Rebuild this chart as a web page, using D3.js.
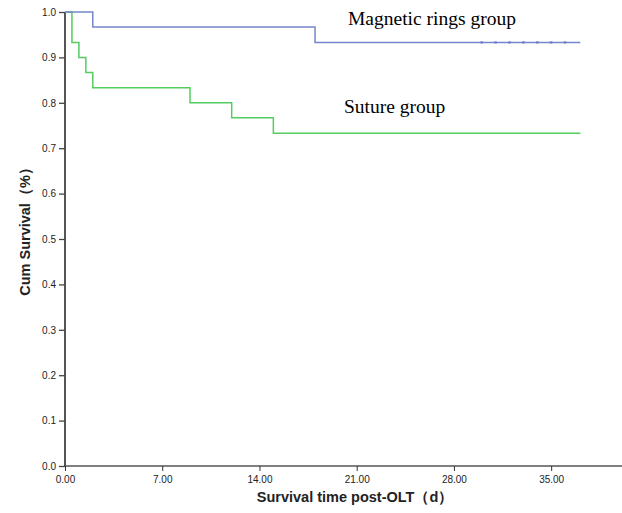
<!DOCTYPE html>
<html>
<head>
<meta charset="utf-8">
<script src="https://cdn.jsdelivr.net/npm/d3@7"></script>
<style>
  body { margin: 0; background: #fff; }
  svg { display: block; }
</style>
</head>
<body>
<div id="km"></div>
<script>
(function(){

var width = 622,
    height = 513;

// step data: [time (days), cum survival]
var ringsSteps = [[0, 1.0], [2, 0.967], [18, 0.933], [37.1, 0.933]];
var sutureSteps = [[0, 1.0], [0.5, 0.933], [1, 0.9], [1.5, 0.867], [2, 0.833],
                   [9, 0.8], [12, 0.767], [15, 0.733], [37.1, 0.733]];
var ringsCensored = [30, 31, 32, 33, 34, 35, 36];
var xTicks = [0, 7, 14, 21, 28, 35];
var yTicks = [0, 0.1, 0.2, 0.3, 0.4, 0.5, 0.6, 0.7, 0.8, 0.9, 1.0];

var x = d3.scaleLinear().domain([0, 40.1]).range([65, 622]);
var y = d3.scaleLinear().domain([0, 1]).range([466, 12]);

var svg = d3.select("#km")
  .append("svg")
  .attr("width", width)
  .attr("height", height);

// x axis
var xAxis = svg.append("g")
  .attr("transform", "translate(0," + y(0) + ")")
  .call(d3.axisBottom(x).tickValues(xTicks).tickSize(5).tickPadding(5)
    .tickFormat(d3.format(".2f")));
xAxis.select(".domain").attr("d", "M" + x(0) + ",0H" + width).attr("stroke", "#000");
xAxis.selectAll(".tick line").attr("stroke", "#333");
xAxis.selectAll("text")
  .attr("font-family", "Liberation Sans, Arial, sans-serif")
  .attr("font-size", 10)
  .attr("fill", "#222");

// y axis
var yAxis = svg.append("g")
  .attr("transform", "translate(" + x(0) + ",0)")
  .call(d3.axisLeft(y).tickValues(yTicks).tickSize(6).tickPadding(3)
    .tickFormat(d3.format(".1f")));
yAxis.select(".domain").attr("d", "M0," + y(0) + "V" + y(1))
  .attr("stroke", "#555").attr("stroke-width", 2);
yAxis.selectAll(".tick line").attr("stroke", "#444").attr("stroke-width", 1.3);
yAxis.selectAll("text")
  .attr("font-family", "Liberation Sans, Arial, sans-serif")
  .attr("font-size", 10)
  .attr("fill", "#222");

// step lines
var line = d3.line()
  .x(function(d){ return x(d[0]); })
  .y(function(d){ return y(d[1]); })
  .curve(d3.curveStepAfter);

svg.append("path")
  .datum(sutureSteps)
  .attr("fill", "none")
  .attr("stroke", "#55cc60")
  .attr("stroke-width", 1.5)
  .attr("d", line);

svg.append("path")
  .datum(ringsSteps)
  .attr("fill", "none")
  .attr("stroke", "#7686cc")
  .attr("stroke-width", 1.5)
  .attr("d", line);

// censored marks
svg.selectAll(".cens")
  .data(ringsCensored)
  .enter()
  .append("line")
  .attr("x1", function(d){ return x(d); })
  .attr("x2", function(d){ return x(d); })
  .attr("y1", y(0.933) - 1)
  .attr("y2", y(0.933) + 1)
  .attr("stroke", "#6274c4")
  .attr("stroke-width", 2.5);

// group labels
svg.append("text")
  .attr("x", 348).attr("y", 25)
  .attr("font-family", "Liberation Serif, Times New Roman, serif")
  .attr("font-size", 19.5)
  .text("Magnetic rings group");

svg.append("text")
  .attr("x", 344).attr("y", 113)
  .attr("font-family", "Liberation Serif, Times New Roman, serif")
  .attr("font-size", 19.5)
  .text("Suture group");

// axis titles
svg.append("text")
  .attr("x", 355).attr("y", 502)
  .attr("text-anchor", "middle")
  .attr("font-family", "Liberation Sans, Arial, sans-serif")
  .attr("font-size", 14.5)
  .attr("font-weight", "bold")
  .attr("fill", "#222")
  .text("Survival time post-OLT（d）");

svg.append("text")
  .attr("transform", "translate(30,228) rotate(-90)")
  .attr("text-anchor", "middle")
  .attr("font-family", "Liberation Sans, Arial, sans-serif")
  .attr("font-size", 14.5)
  .attr("font-weight", "bold")
  .attr("fill", "#222")
  .text("Cum Survival（%）");

})();
</script>
</body>
</html>
